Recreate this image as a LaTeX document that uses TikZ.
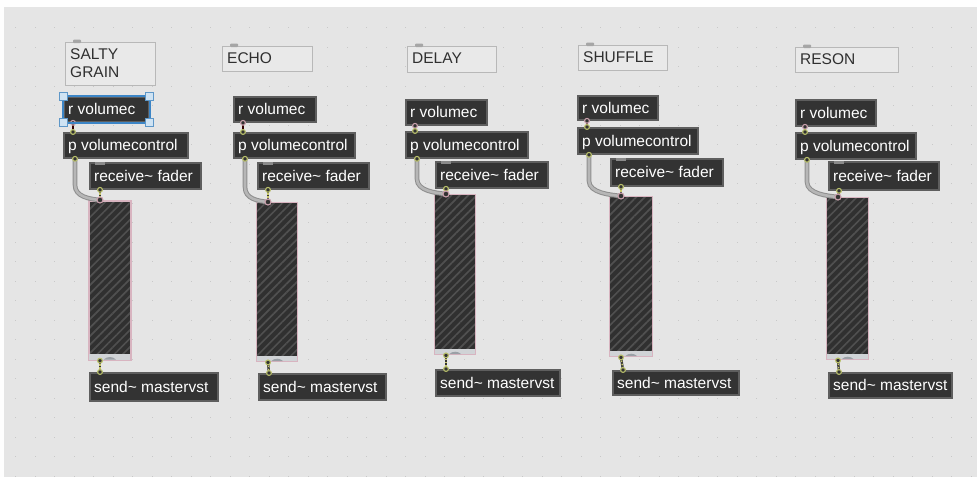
\documentclass[tikz,border=0pt]{standalone}
\usepackage{fontspec}
\setmainfont{Liberation Sans}
\usetikzlibrary{calc,patterns.meta}
\definecolor{bgc}{HTML}{E5E5E5}
\definecolor{griddot}{HTML}{C8C8C8}
\definecolor{objfill}{HTML}{333333}
\definecolor{objedge}{HTML}{5E5E5E}
\definecolor{commedge}{HTML}{B8B8B8}
\definecolor{commfill}{HTML}{E9E9E9}
\definecolor{commtext}{HTML}{303030}
\definecolor{sliderpink}{HTML}{D8B4C0}
\definecolor{sliderfill}{HTML}{303030}
\definecolor{stripe}{HTML}{505050}
\definecolor{stripc}{HTML}{D0D3D6}
\definecolor{bumpc}{HTML}{9AA0A6}
\definecolor{cabdark}{HTML}{8E8E8E}
\definecolor{cablight}{HTML}{B6B6B6}
\definecolor{sigyellow}{HTML}{C9C76A}
\definecolor{portring}{HTML}{B9C06A}
\definecolor{portpink}{HTML}{C9A0AC}
\definecolor{selblue}{HTML}{3C85C6}
\definecolor{handlefill}{HTML}{CFE3F3}
\definecolor{handledraw}{HTML}{5E97C8}
\definecolor{tabc}{HTML}{A6A6A6}
\definecolor{notchc}{HTML}{8A8A8A}
\newcommand\maxfont{\fontsize{15.5}{18}\selectfont}
\newcommand\mobjbox[6]{%
  \node[mobj, minimum width=#4, minimum height=#5] (#1) at (#2,#3) {};
  \node[mtxt] (#1t) at ($(#1.west)+(5,5.5)$) {#6};}
\newcommand\mcomment[6]{%
  \node[mcomm, minimum width=#4, minimum height=#5] (#1) at (#2,#3) {};
  \fill[tabc, rounded corners=1pt] ($(#1.north west)+(8,1)$) rectangle ($(#1.north west)+(16,-2.5)$);
  \node[ctxt] (#1t) at ($(#1.north west)+(5,17.5)$) {#6};}
\newcommand\mslide[5]{%
  \node[mslider, minimum width=#4, minimum height=#5] (#1) at (#2,#3) {};
  \fill[stripc] ($(#1.south west)+(1.4,-1.2)$) rectangle ($(#1.south east)+(-1.4,-6.5)$);
  \fill[bumpc] ($(#1.south)+(-6,-1.2)$) .. controls ($(#1.south)+(-3,-4.5)$) and ($(#1.south)+(3,-4.5)$) .. ($(#1.south)+(6,-1.2)$) -- cycle;}
\newcommand\mwire[1]{%
  \coordinate (rvo#1) at ($(rv#1.south west)+(10,0)$);
  \coordinate (pvi#1) at ($(pv#1.north west)+(10,0)$);
  \coordinate (pvo#1) at ($(pv#1.south west)+(12,0)$);
  \coordinate (rfo#1) at ($(rf#1.south west)+(11,0)$);
  \coordinate (sli#1) at ($(sl#1.north west)+(12,0)$);
  \coordinate (slo#1) at ($(sl#1.south west)+(12,0)$);
  \coordinate (sdi#1) at ($(sd#1.north west)+(11,0)$);
  \fill[notchc] ($(rf#1.north west)+(6,0)$) rectangle ($(rf#1.north west)+(16,3)$);
  \draw[ctrlc] (rvo#1) -- (pvi#1);
  \draw[graycab] (pvo#1) -- ($(pvo#1 |- sli#1)+(0,-15)$) .. controls ($(pvo#1 |- sli#1)+(0,-3)$) and ($(sli#1)+(-10,-1)$) .. (sli#1);
  \draw[sigc] (rfo#1) -- (sli#1);
  \draw[sigc] (slo#1) -- (sdi#1);
  \draw[portst, draw=portpink] (rvo#1) circle[radius=2.4pt];
  \draw[portst] (pvi#1) circle[radius=2.4pt];
  \draw[portst] (pvo#1) circle[radius=2.4pt];
  \draw[portst] (rfo#1) circle[radius=2.4pt];
  \draw[portst, draw=portpink] (sli#1) circle[radius=3pt];
  \draw[portst] (slo#1) circle[radius=2.4pt];
  \draw[portst] (sdi#1) circle[radius=2.4pt];}
\begin{document}
\begin{tikzpicture}[x=1pt,y=-1pt,
  mobj/.style={draw=objedge, fill=objfill, line width=1.8pt, anchor=north west, inner sep=0pt},
  mtxt/.style={anchor=base west, text=white, font=\maxfont, inner sep=0pt},
  mcomm/.style={draw=commedge, fill=commfill, line width=0.9pt, anchor=north west, inner sep=0pt},
  ctxt/.style={anchor=base west, text=commtext, font=\maxfont, inner sep=0pt},
  mslider/.style={draw=sliderpink, line width=1.4pt, anchor=north west, inner sep=0pt,
    preaction={fill=sliderfill},
    pattern={Lines[angle=45,distance=6pt,line width=1.7pt]}, pattern color=stripe},
  ctrlc/.style={draw=black!80!red, line width=2pt},
  graycab/.style={draw=cabdark, line width=4.6pt, postaction={draw=cablight, line width=2.6pt}},
  sigc/.style={draw=objfill, line width=2.4pt, postaction={draw=sigyellow, line width=1.3pt, dash pattern=on 1.6pt off 1.6pt}},
  portst/.style={draw=portring, fill=objfill, line width=1.1pt}]
\useasboundingbox (0,0) rectangle (977,477);
\fill[bgc] (0,0) rectangle (977,477);
\fill[white!96!bgc] (0,0) rectangle (977,7);
\fill[white!96!bgc] (0,0) rectangle (4,477);
\foreach \gx in {15,34.5,...,977} {
  \foreach \gy in {27,46.5,...,477} {
    \fill[griddot] (\gx,\gy) rectangle ++(1.4,1.4);
  }
}
% comments
\mcomment{cm1}{65}{42}{90}{43}{SALTY}
\node[ctxt] (cm1u) at ($(cm1.north west)+(5,35)$) {GRAIN};
\mcomment{cm2}{222}{46}{90}{25}{ECHO}
\mcomment{cm3}{407}{46}{89}{26}{DELAY}
\mcomment{cm4}{578}{45}{89}{25}{SHUFFLE}
\mcomment{cm5}{795}{47}{103}{25}{RESON}
% column 1
\mobjbox{rv1}{63}{96}{85}{25}{r volumec}
\mobjbox{pv1}{63}{132}{124}{25}{p volumecontrol}
\mobjbox{rf1}{89}{162}{111}{26}{receive\textasciitilde{} fader}
\mslide{sl1}{88}{200}{42}{159}
\mobjbox{sd1}{89}{372}{128}{28}{send\textasciitilde{} mastervst}
% column 2
\mobjbox{rv2}{233}{96}{82}{25}{r volumec}
\mobjbox{pv2}{233}{132}{121}{25}{p volumecontrol}
\mobjbox{rf2}{257}{162}{111}{26}{receive\textasciitilde{} fader}
\mslide{sl2}{256}{202}{41}{159}
\mobjbox{sd2}{258}{373}{127}{26}{send\textasciitilde{} mastervst}
% column 3
\mobjbox{rv3}{405}{99}{81}{25}{r volumec}
\mobjbox{pv3}{405}{131}{122}{26}{p volumecontrol}
\mobjbox{rf3}{435}{161}{112}{26}{receive\textasciitilde{} fader}
\mslide{sl3}{434}{194}{41}{160}
\mobjbox{sd3}{435}{369}{124}{26}{send\textasciitilde{} mastervst}
% column 4
\mobjbox{rv4}{577}{95}{80}{24}{r volumec}
\mobjbox{pv4}{577}{127}{120}{26}{p volumecontrol}
\mobjbox{rf4}{610}{158}{112}{27}{receive\textasciitilde{} fader}
\mslide{sl4}{609}{196}{43}{160}
\mobjbox{sd4}{612}{370}{126}{24}{send\textasciitilde{} mastervst}
% column 5
\mobjbox{rv5}{795}{99}{80}{26}{r volumec}
\mobjbox{pv5}{795}{132}{120}{26}{p volumecontrol}
\mobjbox{rf5}{828}{161}{110}{28}{receive\textasciitilde{} fader}
\mslide{sl5}{826}{197}{42}{162}
\mobjbox{sd5}{828}{372}{123}{25}{send\textasciitilde{} mastervst}
% wires
\mwire{1}\mwire{2}\mwire{3}\mwire{4}\mwire{5}
% selection of r volumec
\draw[selblue, line width=2.4pt] (rv1.north west) rectangle (rv1.south east);
\foreach \a in {north west, north east, south west, south east} {
  \filldraw[fill=handlefill, draw=handledraw, line width=0.8pt] ($(rv1.\a)+(-4,-4)$) rectangle ($(rv1.\a)+(4,4)$);
}
\end{tikzpicture}
\end{document}
